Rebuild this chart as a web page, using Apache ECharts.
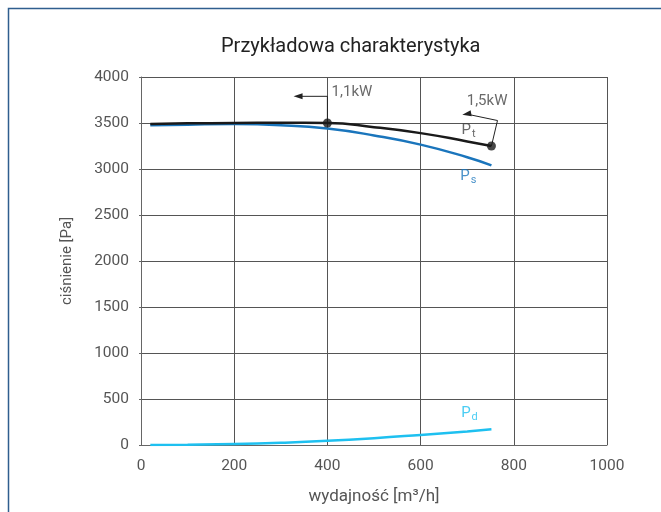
<!DOCTYPE html>
<html><head><meta charset="utf-8">
<script src="https://cdn.jsdelivr.net/npm/echarts@6/dist/echarts.min.js"></script>
<style>html,body{margin:0;padding:0;background:#fff}#c{width:661px;height:512px}</style>
</head><body><div id="c"></div>
<script>
var FONT = '"Roboto","Noto Sans",sans-serif';
var title = 'Przykładowa charakterystyka';
var xName = 'wydajność [m³/h]';
var yName = 'ciśnienie [Pa]';
var xTicks = [0, 200, 400, 600, 800, 1000];
var yTicks = [0, 500, 1000, 1500, 2000, 2500, 3000, 3500, 4000];

// flow [m3/h]
var flow = [20, 100, 200, 300, 400, 500, 600, 700, 752];
var pt = [3490, 3496, 3500, 3502, 3500, 3455, 3390, 3300, 3250];
var ps = [3475, 3482, 3488, 3476, 3440, 3365, 3265, 3128, 3040];
var pd = [0, 3, 10, 24, 45, 74, 110, 148, 170];

// operating points
var kwPoints = [[400, 3500], [752, 3250]];
var arrow11 = [[400, 3500], [400, 3790], [337, 3790]];
var arrow15 = [[752, 3250], [765, 3527], [699, 3597]];
var textLabels = [
  {name: '1,1kW', coord: [409, 3832], color: '#444'},
  {name: '1,5kW', coord: [699, 3731], color: '#444'},
  {name: '{a|P}{b|t}', coord: [688, 3420], color: '#444'},
  {name: '{a|P}{b|s}', coord: [685, 2925], color: '#1a75bc'},
  {name: '{a|P}{b|d}', coord: [687, 345], color: '#1ec0f0'}
];

function zip(xs, ys){ return xs.map(function(x,i){ return [x, ys[i]]; }); }
function arrowData(pts, rot){
  return pts.map(function(p,i){
    var d = {value: p};
    if (i === pts.length-1) { d.symbol = 'triangle'; d.symbolSize = [6, 9]; d.symbolRotate = rot; }
    else { d.symbol = 'none'; }
    return d;
  });
}

var chart = echarts.init(document.getElementById('c'));
chart.setOption({
  animation: false,
  textStyle: {fontFamily: FONT},
  title: {text: title, left: 216, top: 32, textStyle: {fontFamily: FONT, fontSize: 20, fontWeight: 'normal', color: '#222'}},
  grid: {left: 141, right: 54, top: 77, bottom: 67},
  xAxis: {
    type: 'value', min: 0, max: 1000, interval: 200,
    name: xName, nameLocation: 'middle', nameGap: 43,
    nameTextStyle: {fontFamily: FONT, fontSize: 17, color: '#555'},
    axisLine: {show: true, lineStyle: {color: '#666', width: 1}},
    axisTick: {show: false},
    axisLabel: {margin: 13, fontSize: 15.5, color: '#555', fontFamily: FONT, formatter: function(v){ return String(v); }},
    splitLine: {show: true, lineStyle: {color: '#555', width: 1}}
  },
  yAxis: {
    type: 'value', min: 0, max: 4000, interval: 500,
    name: yName, nameLocation: 'middle', nameGap: 66,
    nameTextStyle: {fontFamily: FONT, fontSize: 15, color: '#555'},
    axisLine: {show: true, lineStyle: {color: '#666', width: 1}},
    axisTick: {show: true, length: 2, lineStyle: {color: '#666'}},
    axisLabel: {margin: 12, fontSize: 15.5, color: '#555', fontFamily: FONT, formatter: function(v){ return String(v); }},
    splitLine: {show: true, lineStyle: {color: '#555', width: 1}}
  },
  graphic: [{type: 'rect', shape: {x: 8.5, y: 8.5, width: 800, height: 700}, style: {fill: 'none', stroke: '#2f5e8e', lineWidth: 1.5}, silent: true, z: 100}],
  series: [
    {type: 'line', name: 'Pd', data: zip(flow, pd), smooth: 0.5, symbol: 'none', lineStyle: {color: '#1ec0f0', width: 2.5}, z: 3},
    {type: 'line', name: 'Ps', data: zip(flow, ps), smooth: 0.5, symbol: 'none', lineStyle: {color: '#1a75bc', width: 2.5}, z: 3},
    {type: 'line', name: 'Pt', data: zip(flow, pt), smooth: 0.5, symbol: 'none', lineStyle: {color: '#1a1a1a', width: 2.5}, z: 4},
    {type: 'line', data: arrowData(arrow11, 90), lineStyle: {color: '#222', width: 1}, itemStyle: {color: '#222'}, z: 5},
    {type: 'line', data: arrowData(arrow15, 100), lineStyle: {color: '#222', width: 1}, itemStyle: {color: '#222'}, z: 5},
    {type: 'scatter', data: kwPoints, symbol: 'circle', symbolSize: 9, itemStyle: {color: '#1a1a1a'}, z: 6},
    {type: 'scatter', symbolSize: 0, z: 7,
     data: textLabels.map(function(t){ return {value: t.coord, label: {show: true, position: 'inside', align: 'left', verticalAlign: 'middle', formatter: t.name, color: t.color, fontFamily: FONT, fontSize: 15,
       rich: {a: {fontSize: 15, color: t.color, fontFamily: FONT}, b: {fontSize: 11, color: t.color, fontFamily: FONT, verticalAlign: 'bottom', padding: [8, 0, 0, 1]}}}}; })}
  ]
});
</script></body></html>
